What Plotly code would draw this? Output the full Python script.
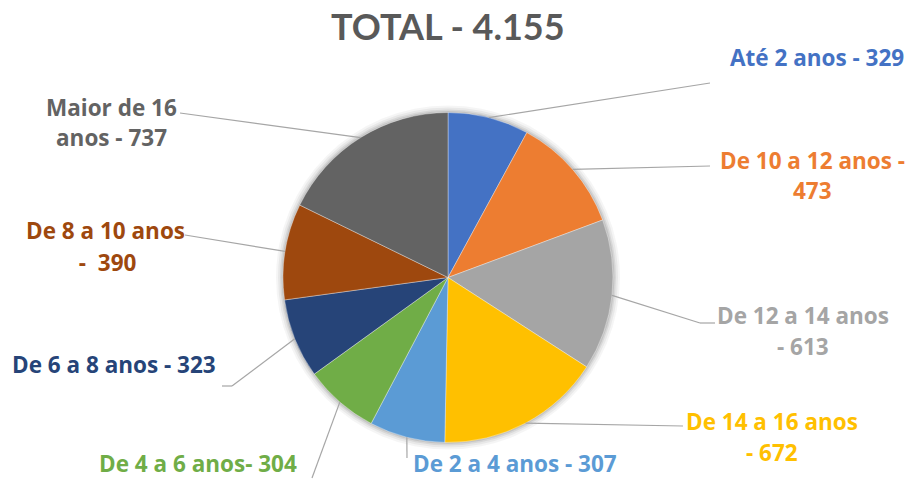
import math
import plotly.graph_objects as go

# Faixas etárias (sentido horário a partir do topo)
faixas = [
    "Até 2 anos", "De 10 a 12 anos", "De 12 a 14 anos", "De 14 a 16 anos",
    "De 2 a 4 anos", "De 4 a 6 anos", "De 6 a 8 anos", "De 8 a 10 anos",
    "Maior de 16 anos",
]
quantidades = [329, 473, 613, 672, 307, 304, 323, 390, 737]
cores = ["#4472C4", "#ED7D31", "#A5A5A5", "#FFC000", "#5B9BD5",
         "#70AD47", "#264478", "#9E480E", "#636363"]
# Rótulos exibidos (uma string por linha)
rotulos = [
    ["Até 2 anos - 329"],
    ["De 10 a 12 anos -", "473"],
    ["De 12 a 14 anos", "- 613"],
    ["De 14 a 16 anos", "- 672"],
    ["De 2 a 4 anos - 307"],
    ["De 4 a 6 anos- 304"],
    ["De 6 a 8 anos - 323"],
    ["De 8 a 10 anos", " -  390"],
    ["Maior de 16", "anos - 737"],
]
titulo = "TOTAL - 4.155"

W, H = 918, 479
CX, CY, R = 448, 277.5, 165  # centro e raio da pizza, em pixels

# Posição de cada rótulo: (x central, y da primeira linha) e traçado da linha guia
pos_rotulo = [
    (817, 57), (812, 160), (803, 315), (772, 421), (515, 463),
    (198, 463), (114, 364), (105, 231), (111, 107),
]
guia = [
    [(710, 83)],
    [(710, 166)],
    [(700, 323), (715, 323)],
    [(683, 426)],
    [(407, 458)],
    [(312, 478)],
    [(232, 386), (222, 386)],
    [(185, 235)],
    [(180, 113)],
]
ENTRELINHA = 31
FONTE_ROTULO = "Open Sans"
FONTE_TITULO = "Lato"


def px(x):
    return x / W


def py(y):
    return 1 - y / H


fig = go.Figure()

# Sombra suave em volta da pizza
shapes = []
for dr, op in [(7, 0.04), (5, 0.05), (3, 0.07), (1.5, 0.09)]:
    shapes.append(dict(
        type="circle", xref="paper", yref="paper",
        x0=px(CX - R - dr), x1=px(CX + R + dr),
        y0=py(CY + R + dr), y1=py(CY - R - dr),
        fillcolor=f"rgba(0,0,0,{op})", line=dict(width=0), layer="below",
    ))

fig.add_trace(go.Pie(
    labels=faixas,
    values=quantidades,
    sort=False,
    direction="clockwise",
    rotation=0,
    textinfo="none",
    hoverinfo="label+value",
    marker=dict(colors=cores, line=dict(color="rgba(255,255,255,0.6)", width=0.6)),
    domain=dict(x=[px(CX - R), px(CX + R)], y=[py(CY + R), py(CY - R)]),
    showlegend=False,
))

# Linhas guia: partem da borda da fatia, no ângulo médio
total = sum(quantidades)
acum = 0
for i, v in enumerate(quantidades):
    ang = (acum + v / 2) / total * 2 * math.pi
    acum += v
    pts = [(CX + R * math.sin(ang), CY - R * math.cos(ang))] + guia[i]
    for (x0, y0), (x1, y1) in zip(pts[:-1], pts[1:]):
        shapes.append(dict(
            type="line", xref="paper", yref="paper",
            x0=px(x0), y0=py(y0), x1=px(x1), y1=py(y1),
            line=dict(color="#A6A6A6", width=1.2),
        ))

annotations = []
for i, linhas in enumerate(rotulos):
    x, y = pos_rotulo[i]
    for k, txt in enumerate(linhas):
        annotations.append(dict(
            text=f"<b>{txt}</b>", x=px(x), y=py(y + k * ENTRELINHA),
            xref="paper", yref="paper", xanchor="center", yanchor="middle",
            showarrow=False, borderpad=0,
            font=dict(family=FONTE_ROTULO, size=22.5, color=cores[i]),
        ))

annotations.append(dict(
    text=f"<b>{titulo}</b>", x=px(448), y=py(26), xref="paper", yref="paper",
    xanchor="center", yanchor="middle", showarrow=False,
    font=dict(family=FONTE_TITULO, size=36, color="#595959"),
))

fig.update_layout(
    width=W, height=H,
    margin=dict(l=0, r=0, t=0, b=0),
    paper_bgcolor="white", plot_bgcolor="white",
    shapes=shapes, annotations=annotations,
)

fig.write_html("out.html")
